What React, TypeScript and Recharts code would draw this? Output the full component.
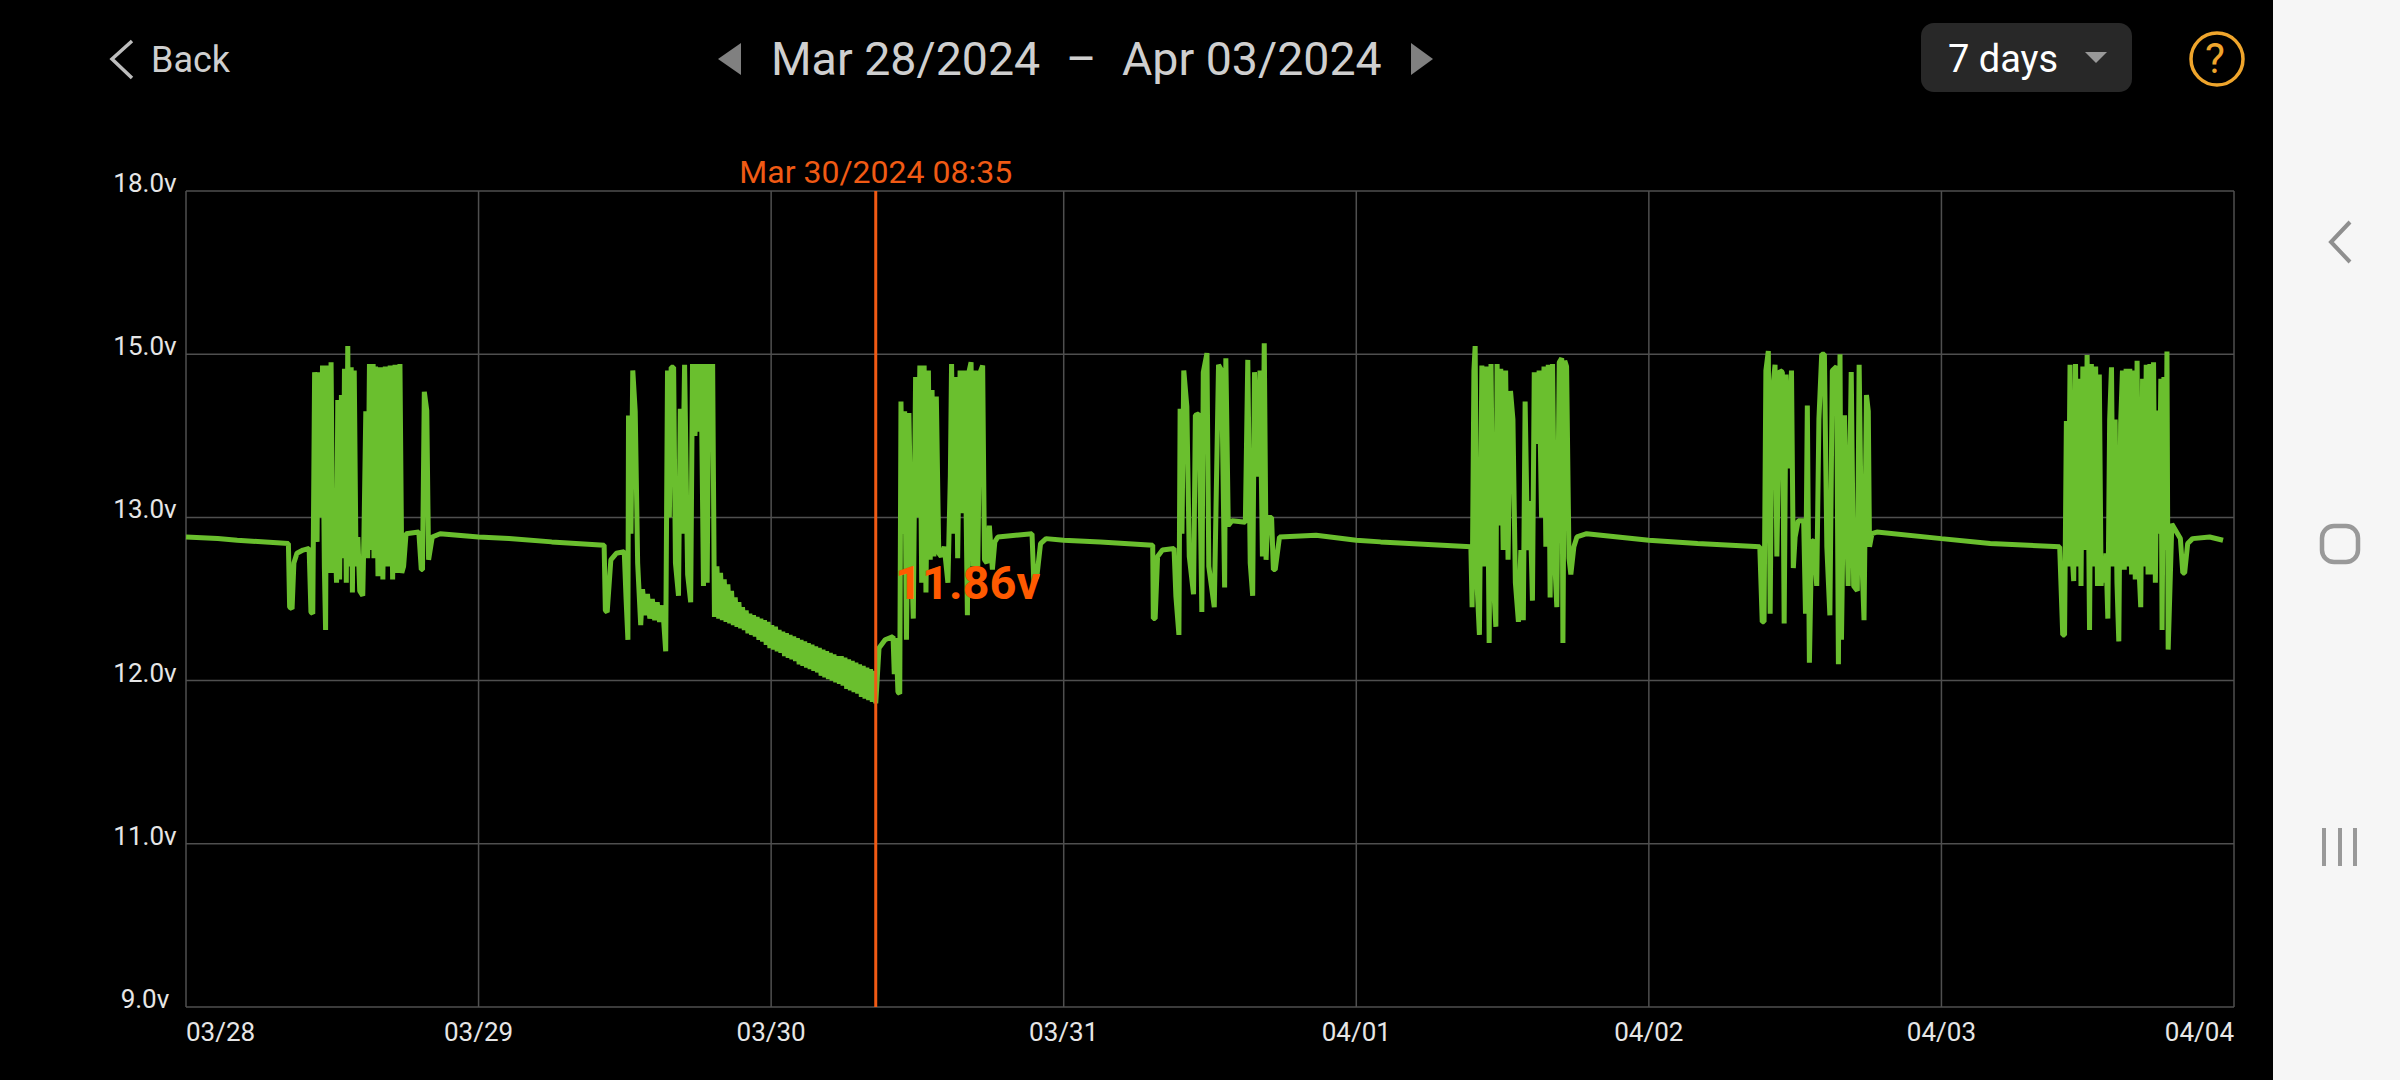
import { LineChart, Line, XAxis, YAxis, CartesianGrid, ReferenceLine } from 'recharts';

// hours since 03/28 00:00, battery volts
const day0328 = [
  [0, 12.88], [2.6, 12.87], [4.2, 12.86], [8.4, 12.84], [8.5, 12.45], [8.7, 12.44], [8.85, 12.72], [9.1, 12.78], [9.6, 12.8], [10.1, 12.81], [10.25, 12.42], [10.4, 12.41],
  [10.55, 14.78], [10.75, 12.85], [10.85, 14.78], [11.0, 13.0], [11.2, 14.86], [11.35, 12.7], [11.45, 12.31], [11.55, 14.86], [11.75, 12.66], [11.9, 14.9], [12.05, 12.66], [12.2, 12.95], [12.35, 12.6], [12.45, 14.44], [12.6, 12.62], [12.75, 14.5], [12.9, 12.75], [13.0, 14.82], [13.15, 12.6], [13.27, 15.15], [13.4, 12.7], [13.55, 14.84], [13.65, 12.54], [13.8, 14.8], [13.95, 12.7], [14.1, 12.88], [14.25, 12.55], [14.5, 12.52], [14.6, 12.9], [14.75, 14.3], [14.9, 12.75], [15.05, 14.88], [15.2, 12.8], [15.35, 14.88], [15.42, 12.75], [15.55, 14.85], [15.75, 12.64], [15.95, 14.84], [16.15, 12.62], [16.35, 14.85], [16.55, 12.7], [16.75, 14.86], [16.95, 12.62], [17.15, 14.87], [17.35, 12.66], [17.55, 14.88], [17.7, 12.66], [17.85, 12.7],
  [18.05, 12.9], [19.1, 12.91], [19.3, 12.68], [19.4, 12.68], [19.55, 14.54], [19.75, 14.31], [19.9, 12.74], [20.2, 12.88], [20.85, 12.9], [24, 12.88],
];

const day0329 = [
  [26.5, 12.87], [30, 12.85], [34.3, 12.83], [34.4, 12.43], [34.55, 12.42], [34.85, 12.74], [35.3, 12.78], [35.95, 12.79], [36.1, 12.5], [36.25, 12.25], [36.3, 14.25], [36.5, 12.9], [36.65, 14.8], [36.85, 14.3], [37.05, 12.72], [37.3, 12.34],
  [37.45, 12.56], [37.65, 12.4], [37.85, 12.53], [38.05, 12.38], [38.25, 12.5], [38.45, 12.37], [38.65, 12.48], [38.85, 12.36], [39.1, 12.46], [39.35, 12.18],
  [39.5, 14.8], [39.65, 13.0], [39.8, 14.84], [40.0, 14.84], [40.15, 12.72], [40.4, 12.52], [40.55, 14.33], [40.7, 12.9], [40.9, 14.87], [41.15, 12.65], [41.4, 12.48], [41.55, 14.88], [41.75, 14.0], [41.95, 14.88], [42.1, 14.05], [42.25, 14.88], [42.45, 12.58], [42.6, 14.88], [42.75, 12.6], [42.9, 14.88], [43.05, 14.0], [43.2, 14.88], [43.35, 12.39],
  [43.55, 12.7], [43.7, 12.38], [43.85, 12.66], [44.0, 12.37], [44.15, 12.62], [44.3, 12.36], [44.45, 12.59], [44.6, 12.35], [44.75, 12.55], [44.9, 12.34], [45.05, 12.51], [45.2, 12.33], [45.35, 12.48], [45.5, 12.32], [45.65, 12.45], [45.8, 12.31], [45.95, 12.43], [46.1, 12.29], [46.25, 12.41], [46.4, 12.28], [46.55, 12.4], [46.7, 12.27], [46.85, 12.39], [47, 12.25], [47.15, 12.38], [47.3, 12.24], [47.45, 12.37], [47.6, 12.22], [47.75, 12.36], [47.9, 12.2],
];

const day0330 = [
  [48.05, 12.34], [48.2, 12.19], [48.35, 12.33], [48.5, 12.18], [48.65, 12.31], [48.8, 12.17], [48.95, 12.3], [49.1, 12.15], [49.25, 12.29], [49.4, 12.14], [49.55, 12.28], [49.7, 12.13], [49.85, 12.27], [50, 12.12], [50.15, 12.26], [50.3, 12.1], [50.45, 12.25], [50.6, 12.09], [50.75, 12.24], [50.9, 12.08], [51.05, 12.23], [51.2, 12.07], [51.35, 12.22], [51.5, 12.06], [51.65, 12.21], [51.8, 12.05], [51.95, 12.2], [52.1, 12.03], [52.25, 12.19], [52.4, 12.02], [52.55, 12.18], [52.7, 12.01], [52.85, 12.17], [53, 12.0], [53.15, 12.16], [53.3, 11.99], [53.45, 12.15], [53.6, 11.98], [53.75, 12.15], [53.9, 11.97], [54.05, 12.14], [54.2, 11.95], [54.35, 12.13], [54.5, 11.94], [54.65, 12.12], [54.8, 11.93], [54.95, 12.11], [55.1, 11.92], [55.25, 12.1], [55.4, 11.9], [55.55, 12.09], [55.7, 11.89], [55.85, 12.08], [56, 11.88], [56.15, 12.07], [56.3, 11.87], [56.45, 12.06], [56.58, 11.86],
  [56.85, 12.2], [57.35, 12.25], [58, 12.27], [58.1, 12.04], [58.25, 12.26], [58.4, 11.93], [58.55, 11.92],
  [58.65, 14.42], [58.8, 12.9], [58.95, 14.3], [59.1, 12.25], [59.3, 14.28], [59.5, 12.8], [59.66, 12.38], [59.85, 14.72], [60, 13.0], [60.2, 14.86], [60.35, 12.6], [60.55, 14.86], [60.7, 12.54], [60.9, 14.8], [61.05, 12.74], [61.2, 14.56], [61.35, 12.76], [61.55, 14.48], [61.75, 12.78], [61.95, 12.76], [62.2, 12.82], [62.5, 12.6], [62.7, 13.5], [62.8, 14.88], [63.0, 12.9], [63.15, 14.72], [63.3, 12.75], [63.5, 14.8], [63.65, 13.05], [63.85, 14.8], [64.1, 12.4], [64.25, 14.8], [64.4, 14.9], [64.55, 12.7], [64.75, 14.8], [64.95, 12.7], [65.15, 14.78], [65.35, 14.86], [65.5, 12.74], [65.7, 12.72], [65.9, 12.95], [66.15, 12.68], [66.35, 12.85],
  [66.6, 12.88], [69.4, 12.9], [69.55, 12.6], [69.8, 12.64], [70.1, 12.84], [70.55, 12.87], [72, 12.86],
];

const day0331 = [
  [75, 12.85], [79.3, 12.83], [79.35, 12.38], [79.5, 12.38], [79.7, 12.76], [80.1, 12.8], [81.05, 12.81], [81.2, 12.52], [81.45, 12.28],
  [81.55, 14.33], [81.7, 12.9], [81.85, 14.8], [82.1, 14.36], [82.3, 12.76], [82.65, 12.53], [82.8, 14.25], [83.1, 14.27], [83.33, 12.42], [83.45, 14.78], [83.75, 15.02], [83.9, 12.7], [84.35, 12.45], [84.7, 14.87], [84.95, 14.8], [85.2, 12.57], [85.3, 14.95], [85.5, 12.95], [85.8, 12.98], [86.9, 12.97], [87.1, 14.93], [87.3, 12.72], [87.5, 12.52], [87.65, 14.78], [87.9, 13.5], [88.1, 14.8], [88.3, 12.76], [88.45, 15.2], [88.6, 12.74], [88.75, 13], [89.05, 13], [89.2, 12.68], [89.35, 12.68],
  [89.7, 12.88], [92.7, 12.89], [96, 12.86],
];

const day0401 = [
  [98, 12.85], [105.4, 12.82], [105.5, 12.45], [105.65, 14.8], [105.75, 15.15], [105.9, 12.6], [106.1, 12.28], [106.3, 14.86], [106.5, 12.7], [106.7, 14.85], [106.9, 12.23], [107.05, 14.88], [107.25, 12.6], [107.45, 12.33], [107.55, 14.88], [107.7, 12.95], [107.85, 14.82], [108.05, 12.8], [108.25, 14.8], [108.45, 12.74], [108.65, 14.55], [108.85, 14.2], [109.05, 12.6], [109.3, 12.36], [109.5, 12.8], [109.7, 12.37], [109.85, 14.42], [110.05, 12.8], [110.25, 13.2], [110.45, 12.49], [110.6, 14.78], [110.8, 13.9], [111, 14.8], [111.2, 13.0], [111.4, 14.85], [111.55, 12.82], [111.75, 14.87], [111.9, 12.51], [112.1, 14.88], [112.3, 12.7], [112.45, 12.45], [112.65, 14.9], [112.85, 14.95], [112.95, 12.23], [113.1, 14.92], [113.25, 14.85], [113.45, 12.75], [113.6, 12.65], [113.85, 12.82],
  [114.1, 12.88], [114.9, 12.9], [120, 12.86],
];

const day0402 = [
  [124, 12.84], [129.1, 12.82], [129.3, 12.36], [129.45, 12.36], [129.6, 14.8], [129.8, 15.06], [129.95, 12.41], [130.1, 14.48], [130.35, 14.87], [130.5, 12.76], [130.75, 14.8], [130.95, 14.78], [131.1, 12.35], [131.25, 14.75], [131.45, 13.6], [131.7, 14.8], [131.85, 12.69], [132, 12.88], [132.25, 12.98], [132.7, 12.98], [132.85, 12.41], [133, 14.37], [133.17, 12.11], [133.35, 12.85], [133.55, 12.86], [133.77, 12.58], [133.95, 14.2], [134.18, 15], [134.4, 15], [134.6, 12.82], [134.85, 12.4], [135.05, 14.8], [135.4, 14.85], [135.55, 12.1], [135.68, 15], [135.8, 12.25], [136.05, 14.25], [136.35, 12.58], [136.6, 14.78], [136.8, 12.58], [137.1, 12.55], [137.25, 14.87], [137.45, 12.8], [137.65, 12.37], [137.85, 14.5], [138, 14.3], [138.1, 12.82],
  [138.3, 12.9], [138.7, 12.91], [144, 12.87],
];

const day0403 = [
  [148, 12.84], [153.7, 12.82], [153.95, 12.28], [154.1, 12.28], [154.25, 14.18], [154.4, 12.7], [154.55, 14.87], [154.7, 12.8], [154.85, 12.61], [155, 14.88], [155.15, 12.7], [155.3, 14.7], [155.45, 12.58], [155.6, 14.85], [155.8, 12.8], [155.95, 14.99], [156.15, 12.31], [156.3, 14.88], [156.5, 12.7], [156.65, 14.85], [156.8, 12.58], [156.95, 14.75], [157.1, 12.58], [157.25, 12.76], [157.4, 12.6], [157.5, 12.78], [157.65, 12.38], [157.8, 14.2], [157.95, 14.84], [158.1, 12.7], [158.25, 14.2], [158.4, 12.6], [158.55, 12.24], [158.7, 14.15], [158.85, 14.8], [159, 12.68], [159.15, 14.82], [159.3, 12.7], [159.45, 14.82], [159.6, 12.65], [159.75, 14.8], [159.9, 12.62], [160.05, 14.92], [160.2, 12.7], [160.35, 12.45], [160.5, 14.7], [160.65, 12.7], [160.8, 14.87], [160.95, 12.65], [161.1, 14.88], [161.25, 12.65], [161.4, 14.9], [161.55, 12.6], [161.7, 14.31], [161.85, 12.9], [162, 14.7], [162.1, 12.31], [162.25, 14.72], [162.4, 12.8], [162.5, 15.05], [162.6, 12.19],
  [162.9, 12.96], [163.6, 12.87], [163.8, 12.66], [163.95, 12.66], [164.2, 12.84], [164.6, 12.87], [166, 12.88], [167.1, 12.86],
];

const voltTicks = [9, 11, 12, 13, 15, 18];
const dayTicks = [0, 24, 48, 72, 96, 120, 144, 168];
const dayLabels = ['03/28', '03/29', '03/30', '03/31', '04/01', '04/02', '04/03', '04/04'];
const cursorHours = 56.58;
const cursorLabel = 'Mar 30/2024 08:35';
const cursorValue = '11.86v';

// the app spaces its voltage ticks evenly, so volts go through a piecewise axis
const voltsToSlot = (volts: number) => {
  for (let i = 0; i < voltTicks.length - 1; i++) {
    if (volts <= voltTicks[i + 1]) {
      return i + (volts - voltTicks[i]) / (voltTicks[i + 1] - voltTicks[i]);
    }
  }
  return voltTicks.length - 1;
};

const chartData = [...day0328, ...day0329, ...day0330, ...day0331, ...day0401, ...day0402, ...day0403].map(
  ([hours, volts]) => ({ hours, slot: voltsToSlot(volts) })
);

const FONT = 'Roboto, sans-serif';

const VoltTick = ({ y, payload }: any) => (
  <text x={145} y={y + 1} textAnchor="middle" fill="#e6e6e6" fontSize={26} fontFamily={FONT}>
    {voltTicks[payload.value].toFixed(1)}v
  </text>
);

const DayTick = ({ x, y, payload }: any) => {
  const index = dayTicks.indexOf(payload.value);
  const anchor = index === 0 ? 'start' : index === dayTicks.length - 1 ? 'end' : 'middle';
  return (
    <text x={x} y={y + 26} textAnchor={anchor} fill="#e6e6e6" fontSize={26} fontFamily={FONT}>
      {dayLabels[index]}
    </text>
  );
};

const label = (left: number, top: number, size: number, color: string, text: string, weight = 400) => (
  <div
    style={{
      position: 'absolute',
      left,
      top,
      fontSize: size,
      lineHeight: `${size}px`,
      color,
      fontWeight: weight,
      fontFamily: FONT,
      whiteSpace: 'nowrap',
    }}
  >
    {text}
  </div>
);

export default function App() {
  return (
    <div style={{ position: 'fixed', left: 0, top: 0, width: 2400, height: 1080, background: '#000', overflow: 'hidden' }}>
      <LineChart
        width={2400}
        height={1080}
        data={chartData}
        margin={{ top: 191, right: 166, bottom: 0, left: 0 }}
      >
        <CartesianGrid stroke="#4f4f4f" strokeWidth={1.5} />
        <XAxis
          dataKey="hours"
          type="number"
          domain={[0, 168]}
          ticks={dayTicks}
          interval={0}
          height={73}
          axisLine={false}
          tickLine={false}
          tick={DayTick}
        />
        <YAxis
          type="number"
          domain={[0, 5]}
          ticks={[0, 1, 2, 3, 4, 5]}
          interval={0}
          width={186}
          axisLine={false}
          tickLine={false}
          tick={VoltTick}
        />
        <Line
          type="linear"
          dataKey="slot"
          stroke="#6abf2e"
          strokeWidth={5}
          strokeLinejoin="bevel"
          dot={false}
          isAnimationActive={false}
        />
        <ReferenceLine
          x={cursorHours}
          stroke="#f05a14"
          strokeWidth={3}
          label={{ value: cursorLabel, position: 'top', fill: '#f05a14', fontSize: 32, fontFamily: FONT, offset: 8 }}
        />
      </LineChart>

      {label(895, 559, 47, '#ff5a00', cursorValue, 700)}

      {/* app header */}
      <svg width={2400} height={1080} style={{ position: 'absolute', left: 0, top: 0, pointerEvents: 'none' }}>
        <polyline points="132,41 112,59 132,78" fill="none" stroke="#bdbdbd" strokeWidth={3.5} />
        <polygon points="741,43 741,75 718,59" fill="#808080" />
        <polygon points="1411,43 1411,75 1433,59" fill="#808080" />
        <rect x={1921} y={23} width={211} height={69} rx={13} fill="#282828" />
        <polygon points="2085,52 2107,52 2096,63" fill="#999" />
        <circle cx={2217} cy={59} r={26} fill="none" stroke="#efa52c" strokeWidth={3.5} />
        <rect x={2273} y={0} width={127} height={1080} fill="#f6f6f6" />
        <polyline points="2350,222 2331,242 2350,262" fill="none" stroke="#8f8f8f" strokeWidth={4} />
        <rect x={2322} y={526} width={36} height={36} rx={12} fill="none" stroke="#999" strokeWidth={4.5} />
        <rect x={2322} y={828} width={4} height={38} fill="#999" />
        <rect x={2338} y={828} width={4} height={38} fill="#999" />
        <rect x={2353} y={828} width={4} height={38} fill="#999" />
      </svg>
      {label(151, 42, 36, '#cfcfcf', 'Back')}
      {label(771, 36, 46.5, '#cfcfcf', 'Mar 28/2024')}
      {label(1066, 36, 46.5, '#cfcfcf', '–')}
      {label(1122, 36, 46.5, '#cfcfcf', 'Apr 03/2024')}
      {label(1948, 40, 38, '#fff', '7 days')}
      {label(2205, 38, 42, '#efa52c', '?')}
    </div>
  );
}
